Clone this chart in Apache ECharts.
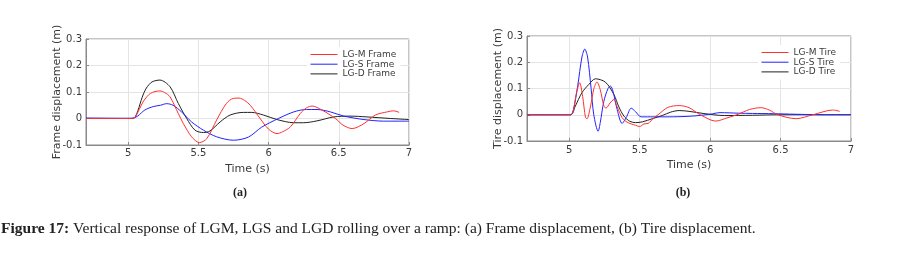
<!DOCTYPE html>
<html>
<head>
<meta charset="utf-8">
<script src="https://cdn.jsdelivr.net/npm/echarts@6/dist/echarts.min.js"></script>
<style>
  html, body { margin: 0; padding: 0; background: #fff; }
  #main { width: 904px; height: 262px; }
</style>
</head>
<body>
<div id="main"></div>
<script>
// (a) Frame displacement
var frameM_t = [4.7, 5.0, 5.03, 5.05, 5.08, 5.11, 5.16, 5.226, 5.26, 5.298, 5.357, 5.393, 5.452, 5.507, 5.56, 5.63, 5.70, 5.75, 5.79, 5.83, 5.87, 5.94, 6.0, 6.06, 6.1, 6.155, 6.226, 6.27, 6.31, 6.38, 6.476, 6.53, 6.595, 6.68, 6.76, 6.845, 6.89, 6.93];
var frameM_v = [0, 0, 0, 0.005, 0.035, 0.066, 0.095, 0.104, 0.098, 0.082, 0.019, -0.019, -0.069, -0.091, -0.076, -0.006, 0.057, 0.076, 0.077, 0.068, 0.05, 0, -0.04, -0.057, -0.05, -0.032, 0.019, 0.04, 0.047, 0.032, 0, -0.025, -0.038, -0.019, 0.013, 0.025, 0.029, 0.023];

var frameS_t = [4.7, 5.0, 5.04, 5.07, 5.119, 5.179, 5.23, 5.274, 5.32, 5.38, 5.452, 5.536, 5.63, 5.75, 5.857, 5.95, 6.07, 6.18, 6.27, 6.345, 6.44, 6.536, 6.68, 6.82, 7.0];
var frameS_v = [0.002, 0.001, 0.002, 0.01, 0.032, 0.045, 0.05, 0.056, 0.05, 0.025, -0.013, -0.044, -0.069, -0.082, -0.07, -0.033, 0, 0.025, 0.034, 0.034, 0.025, 0.009, -0.004, -0.01, -0.01];

var frameD_t = [4.7, 5.0, 5.03, 5.05, 5.07, 5.1, 5.13, 5.17, 5.226, 5.298, 5.357, 5.417, 5.476, 5.536, 5.583, 5.655, 5.726, 5.82, 5.88, 5.964, 6.06, 6.18, 6.25, 6.345, 6.464, 6.58, 6.70, 6.87, 7.0];
var frameD_v = [0, 0, 0, 0.006, 0.03, 0.08, 0.115, 0.138, 0.145, 0.12, 0.057, 0, -0.044, -0.053, -0.047, -0.013, 0.013, 0.023, 0.023, 0.013, -0.004, -0.016, -0.016, -0.009, 0.006, 0.009, 0.006, 0, -0.004];

// (b) Tire displacement
var tireM_t = [4.7, 5.01, 5.03, 5.05, 5.074, 5.095, 5.115, 5.126, 5.15, 5.175, 5.197, 5.22, 5.245, 5.26, 5.29, 5.316, 5.34, 5.375, 5.41, 5.44, 5.47, 5.5, 5.53, 5.56, 5.6, 5.63, 5.7, 5.78, 5.85, 5.93, 6.04, 6.12, 6.19, 6.28, 6.36, 6.42, 6.48, 6.61, 6.73, 6.87, 6.92];
var tireM_v = [0, 0, 0.02, 0.08, 0.122, 0.07, -0.01, -0.015, 0.03, 0.1, 0.125, 0.095, 0.035, 0.025, 0.045, 0.058, 0.03, -0.011, -0.028, -0.035, -0.04, -0.045, -0.035, -0.033, -0.012, 0, 0.028, 0.035, 0.027, 0, -0.024, -0.012, 0, 0.02, 0.027, 0.018, 0, -0.015, 0, 0.018, 0.013];

var tireS_t = [4.7, 5.01, 5.03, 5.06, 5.09, 5.11, 5.13, 5.155, 5.174, 5.205, 5.22, 5.245, 5.275, 5.293, 5.31, 5.34, 5.375, 5.405, 5.44, 5.47, 5.51, 5.6, 5.68, 5.8, 5.9, 6.0, 6.07, 6.2, 6.3, 6.45, 6.6, 6.8, 7.0];
var tireS_v = [0, 0, 0.02, 0.11, 0.22, 0.25, 0.22, 0.1, 0, -0.063, -0.03, 0.05, 0.1, 0.109, 0.09, 0.02, -0.033, -0.01, 0.025, 0.012, -0.008, -0.008, -0.008, -0.007, -0.004, 0.002, 0.008, 0.006, 0.005, 0.004, 0.002, 0, 0];

var tireD_t = [4.7, 5.01, 5.043, 5.09, 5.138, 5.186, 5.257, 5.317, 5.352, 5.388, 5.43, 5.47, 5.52, 5.59, 5.66, 5.72, 5.78, 5.85, 5.95, 6.1, 6.3, 6.5, 6.8, 7.0];
var tireD_v = [0, 0, 0.033, 0.084, 0.115, 0.137, 0.124, 0.077, 0.03, -0.005, -0.025, -0.03, -0.027, -0.015, -0.003, 0.01, 0.016, 0.013, 0.005, -0.003, -0.002, 0, 0, 0];

var frameNames = ['LG-M Frame', 'LG-S Frame', 'LG-D Frame'];
var tireNames = ['LG-M Tire', 'LG-S Tire', 'LG-D Tire'];
var colors = ['#ff3030', '#2222ff', '#222222'];

function pairs(t, v) {
    var out = [];
    for (var i = 0; i < t.length; i++) out.push([t[i], v[i]]);
    return out;
}

var axisGray = '#8a8a8a';
var textGray = '#3a3a3a';
var font = 'DejaVu Sans';

function xAxisCfg(grid, gap, margin) {
    return {
        type: 'value', gridIndex: grid, min: 4.7, max: 7, splitNumber: 5,
        name: 'Time (s)', nameLocation: 'middle', nameGap: gap, nameMoveOverlap: false,
        nameTextStyle: { color: textGray, fontFamily: font, fontSize: 11 },
        axisLine: { show: true, onZero: false, lineStyle: { color: axisGray } },
        axisTick: { inside: true, length: 3, lineStyle: { color: axisGray } },
        axisLabel: { showMinLabel: false, margin: margin, color: textGray, fontFamily: font, fontSize: 10 },
        splitLine: { show: true, lineStyle: { color: '#e4e4e4' } }
    };
}
function yAxisCfg(grid, title, gap) {
    return {
        type: 'value', gridIndex: grid, min: -0.1, max: 0.3, interval: 0.1,
        name: title, nameLocation: 'middle', nameGap: gap, nameRotate: 90, nameMoveOverlap: false,
        nameTextStyle: { color: textGray, fontFamily: font, fontSize: 11 },
        axisLine: { show: true, onZero: false, lineStyle: { color: axisGray } },
        axisTick: { inside: true, length: 3, lineStyle: { color: axisGray } },
        axisLabel: { margin: 4, color: textGray, fontFamily: font, fontSize: 10 },
        splitLine: { show: true, lineStyle: { color: '#e4e4e4' } }
    };
}
function makeSeries(name, t, v, idx, axis) {
    return {
        name: name, type: 'line', xAxisIndex: axis, yAxisIndex: axis,
        data: pairs(t, v), smooth: 0.3, symbol: 'none',
        lineStyle: { width: 1, color: colors[idx] }, itemStyle: { color: colors[idx] },
        z: 3 - idx
    };
}
function legendCfg(names, left, top) {
    return {
        data: names, orient: 'vertical', left: left, top: top,
        itemWidth: 27, itemHeight: 10, itemGap: 0.7,
        itemStyle: { opacity: 0, borderWidth: 0 },
        lineStyle: { width: 1 },
        padding: [3, 4, 3, 3], backgroundColor: '#fff',
        textStyle: { color: textGray, fontFamily: font, fontSize: 9 }
    };
}

var chart = echarts.init(document.getElementById('main'));
chart.setOption({
    backgroundColor: '#fff',
    animation: false,
    grid: [
        { left: 86, top: 39, width: 323, height: 106, show: true, borderColor: axisGray, borderWidth: 1, backgroundColor: 'transparent' },
        { left: 527, top: 36, width: 324, height: 105, show: true, borderColor: axisGray, borderWidth: 1, backgroundColor: 'transparent' }
    ],
    xAxis: [xAxisCfg(0, 19, 3), xAxisCfg(1, 19, 4)],
    yAxis: [yAxisCfg(0, 'Frame displacement (m)', 23), yAxisCfg(1, 'Tire displacement (m)', 23)],
    legend: [legendCfg(frameNames, 307, 47), legendCfg(tireNames, 758, 45)],
    series: [
        makeSeries(frameNames[0], frameM_t, frameM_v, 0, 0),
        makeSeries(frameNames[1], frameS_t, frameS_v, 1, 0),
        makeSeries(frameNames[2], frameD_t, frameD_v, 2, 0),
        makeSeries(tireNames[0], tireM_t, tireM_v, 0, 1),
        makeSeries(tireNames[1], tireS_t, tireS_v, 1, 1),
        makeSeries(tireNames[2], tireD_t, tireD_v, 2, 1)
    ],
    graphic: [
        { type: 'text', x: 240, y: 193, style: { text: '(a)', font: 'bold 12px "Liberation Serif"', fill: '#222', align: 'center', verticalAlign: 'middle' } },
        { type: 'text', x: 683, y: 193, style: { text: '(b)', font: 'bold 12px "Liberation Serif"', fill: '#222', align: 'center', verticalAlign: 'middle' } },
        { type: 'text', x: 1, y: 229, style: {
            text: '{b|Figure 17:} Vertical response of LGM, LGS and LGD rolling over a ramp: (a) Frame displacement, (b) Tire displacement.',
            fontFamily: 'Liberation Serif', fontSize: 15.5, fill: '#222', verticalAlign: 'middle',
            rich: { b: { fontWeight: 'bold', fontFamily: 'Liberation Serif', fontSize: 15.5, fill: '#222' } }
        } }
    ]
});
</script>
</body>
</html>
